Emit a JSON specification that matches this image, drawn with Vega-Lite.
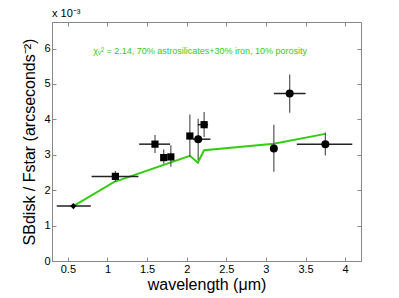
{
  "$schema": "https://vega.github.io/schema/vega-lite/v6.json",
  "width": 309,
  "height": 239,
  "autosize": {"type": "none"},
  "padding": {"left": 52, "top": 22, "right": 38, "bottom": 37},
  "config": {
    "font": "Liberation Sans",
    "view": {"stroke": "#888888", "strokeWidth": 1},
    "axis": {"domainColor": "#888888", "tickColor": "#888888", "labelColor": "black", "labelFontSize": 11, "grid": false, "tickSize": -4, "titleColor": "black", "titleFontWeight": "normal", "titleFontSize": 16}
  },
  "datasets": {
    "obs": [
      {"w": 0.57, "sb": 1.55, "wlo": 0.36, "whi": 0.79, "sblo": 1.50, "sbhi": 1.60, "set": "optical"},
      {"w": 1.10, "sb": 2.39, "wlo": 0.80, "whi": 1.39, "sblo": 2.23, "sbhi": 2.54, "set": "nir"},
      {"w": 1.60, "sb": 3.30, "wlo": 1.40, "whi": 1.79, "sblo": 3.05, "sbhi": 3.56, "set": "nir"},
      {"w": 1.71, "sb": 2.92, "wlo": 1.71, "whi": 1.71, "sblo": 2.75, "sbhi": 3.15, "set": "nir"},
      {"w": 1.80, "sb": 2.94, "wlo": 1.80, "whi": 1.80, "sblo": 2.66, "sbhi": 3.27, "set": "nir"},
      {"w": 2.04, "sb": 3.53, "wlo": 2.01, "whi": 2.08, "sblo": 2.94, "sbhi": 4.14, "set": "nir"},
      {"w": 2.145, "sb": 3.44, "wlo": 2.08, "whi": 2.30, "sblo": 2.85, "sbhi": 4.02, "set": "ir"},
      {"w": 2.22, "sb": 3.85, "wlo": 2.14, "whi": 2.27, "sblo": 3.50, "sbhi": 4.21, "set": "nir"},
      {"w": 3.10, "sb": 3.18, "wlo": 3.08, "whi": 3.14, "sblo": 2.52, "sbhi": 3.85, "set": "ir"},
      {"w": 3.30, "sb": 4.73, "wlo": 3.10, "whi": 3.50, "sblo": 4.19, "sbhi": 5.27, "set": "ir"},
      {"w": 3.75, "sb": 3.30, "wlo": 3.39, "whi": 4.09, "sblo": 2.98, "sbhi": 3.63, "set": "ir"}
    ],
    "model": [
      {"w": 0.57, "sb": 1.55},
      {"w": 1.08, "sb": 2.23},
      {"w": 2.04, "sb": 2.97},
      {"w": 2.14, "sb": 2.78},
      {"w": 2.22, "sb": 3.13},
      {"w": 3.10, "sb": 3.31},
      {"w": 3.75, "sb": 3.59}
    ],
    "note": [
      {"w": 2.17, "sb": 5.92, "label": "χᵥ² = 2.14, 70% astrosilicates+30% iron, 10% porosity"}
    ],
    "exp": [
      {"w": 0.3, "sb": 6.75, "label": "x 10⁻³"}
    ]
  },
  "resolve": {"axis": {"x": "independent", "y": "independent"}},
  "layer": [
    {
      "data": {"name": "model"},
      "mark": {"type": "line", "color": "#33cc11", "strokeWidth": 2},
      "encoding": {
        "x": {"field": "w", "type": "quantitative", "scale": {"domain": [0.3, 4.2], "nice": false, "zero": false},
              "axis": {"values": [0.5, 1, 1.5, 2, 2.5, 3, 3.5, 4], "format": "~g", "title": "wavelength (μm)", "labelPadding": 6, "titlePadding": 2}},
        "y": {"field": "sb", "type": "quantitative", "scale": {"domain": [0, 6.75], "nice": false},
              "axis": {"values": [0, 1, 2, 3, 4, 5, 6], "title": "SBdisk / Fstar (arcseconds⁻²)", "labelPadding": 6, "titlePadding": 6}}
      }
    },
    {
      "data": {"name": "obs"},
      "mark": {"type": "rule", "color": "#555555", "strokeWidth": 1.2},
      "encoding": {
        "x": {"field": "w", "type": "quantitative", "axis": null},
        "y": {"field": "sblo", "type": "quantitative", "axis": null},
        "y2": {"field": "sbhi"}
      }
    },
    {
      "data": {"name": "obs"},
      "mark": {"type": "rule", "color": "#222222", "strokeWidth": 1.5},
      "encoding": {
        "x": {"field": "wlo", "type": "quantitative", "axis": null},
        "x2": {"field": "whi"},
        "y": {"field": "sb", "type": "quantitative", "axis": null}
      }
    },
    {
      "data": {"name": "obs"},
      "mark": {"type": "point", "filled": true, "color": "black", "opacity": 1},
      "encoding": {
        "x": {"field": "w", "type": "quantitative", "axis": null},
        "y": {"field": "sb", "type": "quantitative", "axis": null},
        "shape": {"field": "set", "type": "nominal", "legend": null,
                  "scale": {"domain": ["optical", "nir", "ir"], "range": ["diamond", "square", "circle"]}},
        "size": {"field": "set", "type": "nominal", "legend": null,
                 "scale": {"domain": ["optical", "nir", "ir"], "range": [40, 64, 64]}}
      }
    },
    {
      "data": {"name": "note"},
      "mark": {"type": "text", "color": "#33cc11", "fontSize": 9, "align": "center", "baseline": "middle"},
      "encoding": {
        "x": {"field": "w", "type": "quantitative", "axis": null},
        "y": {"field": "sb", "type": "quantitative", "axis": null},
        "text": {"field": "label"}
      }
    },
    {
      "data": {"name": "exp"},
      "mark": {"type": "text", "color": "black", "fontSize": 11, "align": "left", "baseline": "bottom", "dy": -3},
      "encoding": {
        "x": {"field": "w", "type": "quantitative", "axis": null},
        "y": {"field": "sb", "type": "quantitative", "axis": null},
        "text": {"field": "label"}
      }
    },
    {
      "data": {"name": "model"},
      "mark": {"type": "point", "opacity": 0},
      "encoding": {
        "x": {"field": "w", "type": "quantitative",
              "axis": {"orient": "top", "values": [0.5, 1, 1.5, 2, 2.5, 3, 3.5, 4], "labels": false, "title": null, "domain": false}},
        "y": {"field": "sb", "type": "quantitative",
              "axis": {"orient": "right", "values": [0, 1, 2, 3, 4, 5, 6], "labels": false, "title": null, "domain": false}}
      }
    }
  ]
}
